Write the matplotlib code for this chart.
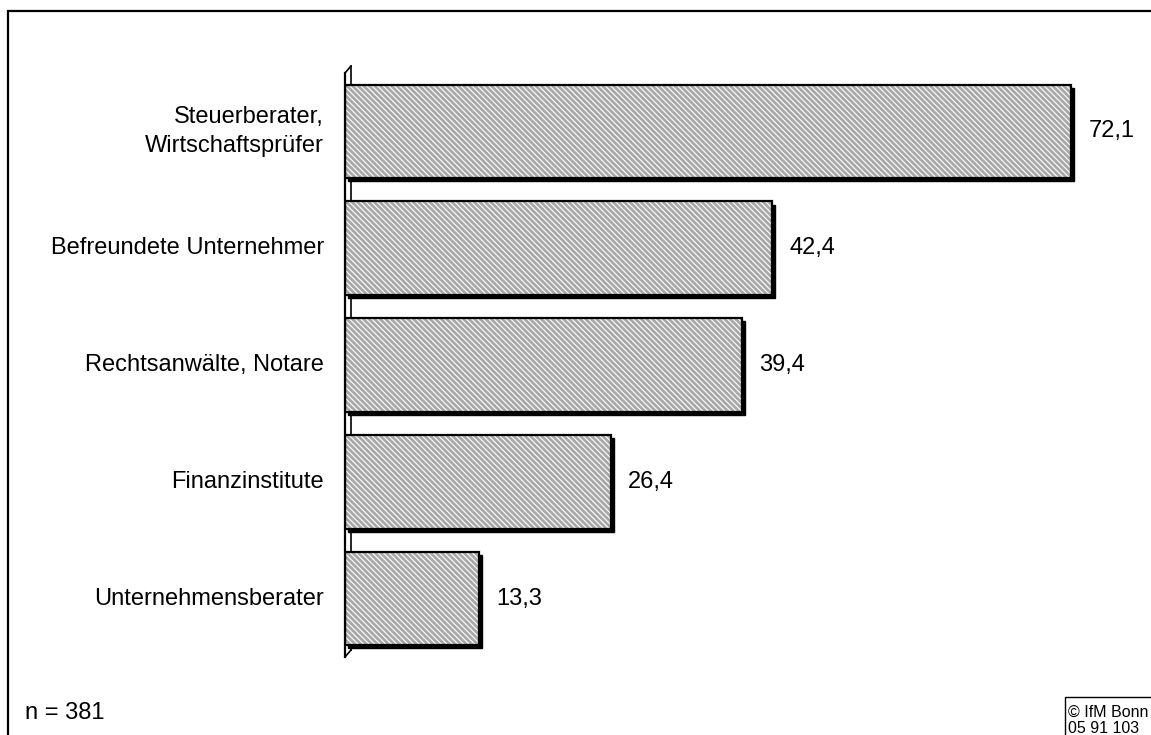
import matplotlib
matplotlib.use("Agg")
import matplotlib.pyplot as plt
import matplotlib.transforms as mtransforms
from matplotlib.patches import Rectangle
import numpy as np

# ── data ──────────────────────────────────────────────────────────────────────
CATEGORIES = [
    "Steuerberater,\nWirtschaftsprüfer",
    "Befreundete Unternehmer",
    "Rechtsanwälte, Notare",
    "Finanzinstitute",
    "Unternehmensberater",
]
VALUES = [72.1, 42.4, 39.4, 26.4, 13.3]
N_TEXT = "n = 381"
SOURCE_TEXT = "© IfM Bonn\n05 91 103"

plt.rcParams["font.family"] = ["Liberation Sans", "DejaVu Sans"]
plt.rcParams["hatch.linewidth"] = 2.0

W, H = 1151, 735
fig = plt.figure(figsize=(W / 100, H / 100), dpi=100)
fig.patch.set_facecolor("white")

# outer frame (runs off the right/bottom edge as in the original)
fig.add_artist(Rectangle((8 / W, -0.05), 1.1, (H - 11) / H + 0.05,
                         transform=fig.transFigure, fill=False,
                         edgecolor="black", linewidth=1.6))

ax = fig.add_axes([345 / W, 1 - 657 / H, 806 / W, 584 / H])
ax.set_xlim(0, 80)
ax.set_ylim(len(CATEGORIES) - 0.5, -0.5)
ax.axis("off")

y = np.arange(len(CATEGORIES))
bar_h = 0.8

# shadow / depth behind each bar
shadow = mtransforms.offset_copy(ax.transData, fig=fig, x=2.2, y=-2.2, units="points")
ax.barh(y, VALUES, height=bar_h, color="black", edgecolor="black",
        linewidth=1.0, transform=shadow, zorder=2)
# hatched face (hatch takes the edge colour, so draw the outline separately)
ax.barh(y, VALUES, height=bar_h, color="white", edgecolor="#a8a8a8",
        linewidth=0, hatch="\\" * 6, zorder=3)
ax.barh(y, VALUES, height=bar_h, fill=False, edgecolor="black",
        linewidth=1.6, zorder=4)

# 3D wall at the category axis
back = mtransforms.offset_copy(ax.transData, fig=fig, x=4.3, y=5.0, units="points")
y0, y1 = len(CATEGORIES) - 0.5, -0.5
ax.plot([0, 0], [y0, y1], color="black", lw=1.6, zorder=5, clip_on=False)
ax.plot([0, 0], [y0, y1], color="black", lw=1.2, zorder=1, clip_on=False,
        transform=back)
inv = fig.transFigure.inverted()
for yy in (y0, y1):
    a = inv.transform(ax.transData.transform((0, yy)))
    b = inv.transform(back.transform((0, yy)))
    fig.add_artist(plt.Line2D([a[0], b[0]], [a[1], b[1]], color="black", lw=1.2))

# category labels and values
for yi, label, v in zip(y, CATEGORIES, VALUES):
    ax.text(-2.1, yi, label, ha="right", va="center", fontsize=17,
            linespacing=1.45)
    ax.text(v + 1.7, yi, f"{v:.1f}".replace(".", ","), ha="left",
            va="center", fontsize=17)

fig.text(25 / W, 1 - 713 / H, N_TEXT, ha="left", va="center", fontsize=17)
fig.text(1068 / W, 1 - 705 / H, SOURCE_TEXT, ha="left", va="top",
         fontsize=11.5, linespacing=1.1)
fig.add_artist(Rectangle((1065 / W, -0.05), 0.2, 0.05 + (H - 697) / H,
                         transform=fig.transFigure, fill=False,
                         edgecolor="black", linewidth=1.0))

fig.savefig("out.png", dpi=100)
